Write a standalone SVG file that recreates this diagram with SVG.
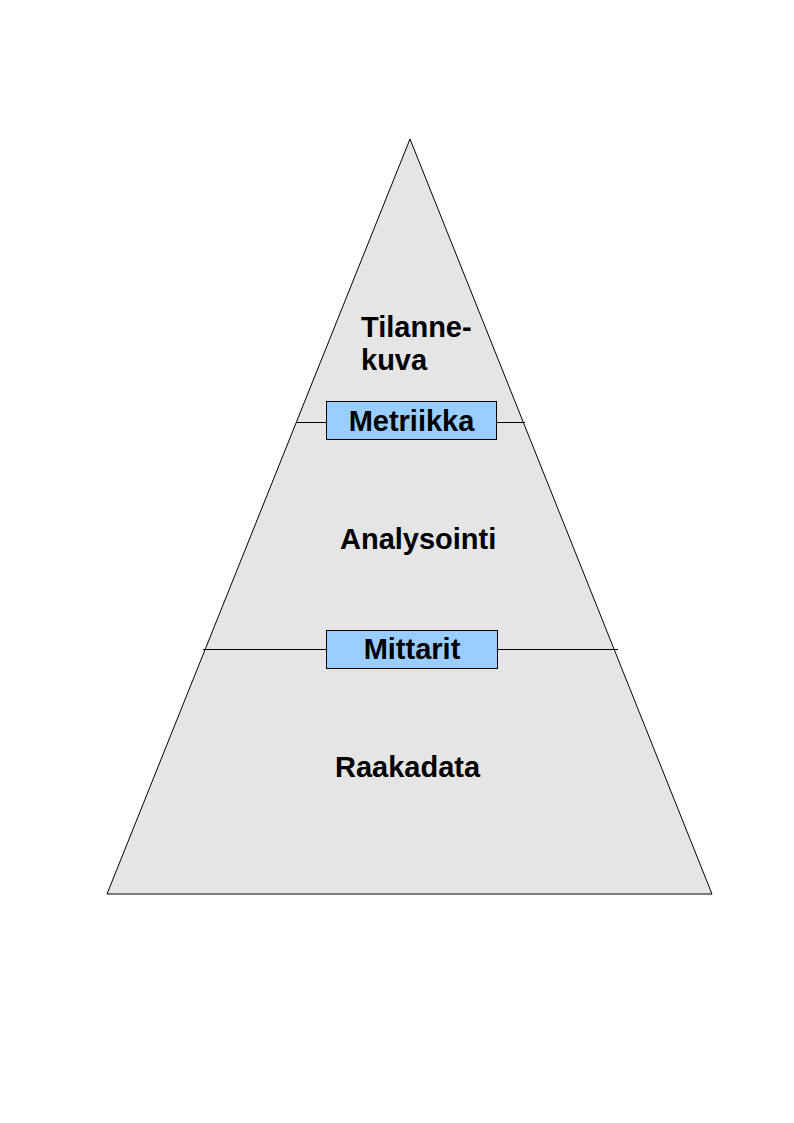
<svg xmlns="http://www.w3.org/2000/svg" width="794" height="1123" viewBox="0 0 794 1123">
<style>
.t{font-family:"Liberation Sans",Arial,sans-serif;font-weight:bold;font-size:29px;fill:#000}
.box{fill:#99ccff;stroke:#000;stroke-width:1}
.ln{stroke:#000;stroke-width:1;fill:none}
</style>
<rect width="794" height="1123" fill="#fff"/>
<g id="pyramid">
<polygon points="410,139 712,894 107,894" fill="#e5e5e5" stroke="#000" stroke-width="1"/>
<text class="t" x="361" y="337">Tilanne-</text>
<text class="t" x="361" y="370">kuva</text>
<text class="t" x="340" y="549">Analysointi</text>
<text class="t" x="335" y="777">Raakadata</text>
</g>
<g id="connectors">
<line class="ln" x1="296" y1="422.5" x2="525" y2="422.5"/>
<line class="ln" x1="203" y1="649.5" x2="618" y2="649.5"/>
</g>
<g id="metriikka">
<rect class="box" x="326.5" y="401.5" width="170" height="38"/>
<text class="t" x="411.5" y="431" text-anchor="middle">Metriikka</text>
</g>
<g id="mittarit">
<rect class="box" x="326.5" y="630.5" width="171" height="38"/>
<text class="t" x="412" y="659" text-anchor="middle">Mittarit</text>
</g>
</svg>
